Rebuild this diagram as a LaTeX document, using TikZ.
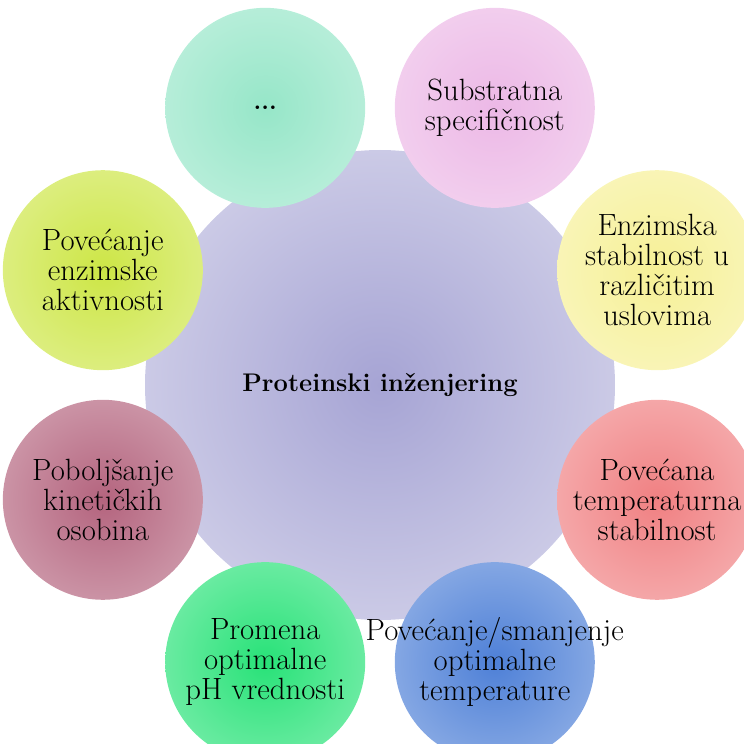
\documentclass[tikz,border=0pt]{standalone}
\usepackage{tikz}
\usetikzlibrary{positioning}
\definecolor{mlav}{RGB}{166,164,212}
\definecolor{mrim}{RGB}{228,228,242}
\definecolor{cmint}{RGB}{150,230,200}
\definecolor{cpink}{RGB}{236,184,230}
\definecolor{cyel}{RGB}{246,240,150}
\definecolor{csalm}{RGB}{240,128,130}
\definecolor{cblue}{RGB}{78,128,215}
\definecolor{cgreen}{RGB}{40,226,120}
\definecolor{cmauve}{RGB}{180,100,126}
\definecolor{clime}{RGB}{205,230,70}
\colorlet{satin}{white}
\colorlet{satout}{white}
\pgfdeclareradialshading[satin,satout]{satball}{\pgfpoint{0bp}{0bp}}{%
  color(0bp)=(satin); color(37bp)=(satout); color(45bp)=(mrim); color(50bp)=(white)}
\pgfdeclareradialshading{hubball}{\pgfpoint{0bp}{0bp}}{%
  color(0bp)=(mlav); color(36bp)=(mlav!40!white); color(45bp)=(mlav!24!white); color(50bp)=(white)}
\tikzset{sat/.style = {circle, inner sep = 0, minimum size = 4cm, shading = satball},
         sattext/.style = {align = center, inner sep = 0,
                           font = \fontsize{17.5}{17}\selectfont},
         hub/.style = {circle, inner sep = 0, minimum size = 9.4cm,
                       font = \fontsize{14.5}{14.5}\selectfont\bfseries, shading = hubball}}

\begin{document}
\begin{tikzpicture}
  \useasboundingbox (0, 0) rectangle (14.88, 14.88);
  \clip (0, 0) rectangle (14.88, 14.88);

  \node [hub] (hub) at (7.6, 7.18) {Proteinski inženjering};

  \foreach \a/\c/\n/\t in {22.5/cyel/enz/{Enzimska\\stabilnost u\\različitim\\uslovima},
                          67.5/cpink/sub/{Substratna\\specifičnost},
                          112.5/cmint/dots/{\fontsize{14}{14}\selectfont\textbf{...}},
                          157.5/clime/akt/{Povećanje\\enzimske\\aktivnosti},
                          202.5/cmauve/kin/{Poboljšanje\\kinetičkih\\osobina},
                          247.5/cgreen/ph/{Promena\\optimalne\\pH vrednosti},
                          292.5/cblue/opt/{Povećanje/smanjenje\\optimalne\\temperature},
                          337.5/csalm/term/{Povećana\\temperaturna\\stabilnost}} {
    \colorlet{satin}{\c}
    \colorlet{satout}{\c!55!white}
    \node [sat] (\n) at ([shift={(\a:6cm)}]hub.center) {};
    \node [sattext] (\n-t) at (\n) {\t};
  }
\end{tikzpicture}
\end{document}
